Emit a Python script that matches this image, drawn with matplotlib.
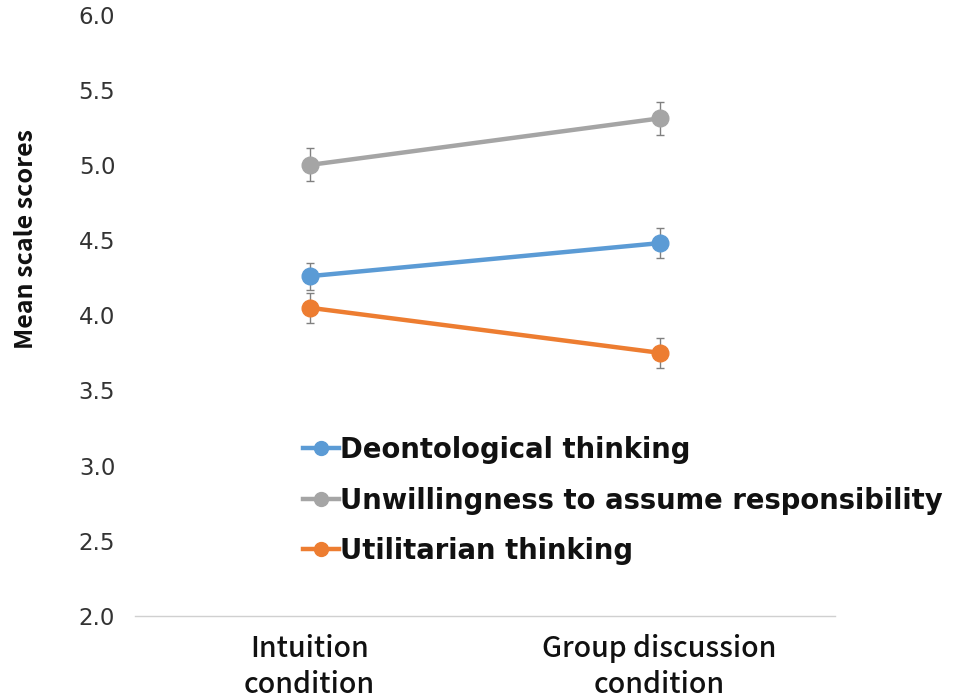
import numpy as np
import matplotlib.pyplot as plt
from matplotlib.lines import Line2D

plt.rcParams['font.family'] = ['Noto Sans CJK JP', 'DejaVu Sans']

# Data
conditions = ["Intuition\ncondition", "Group discussion\ncondition"]
series_names = ["Deontological thinking",
                "Unwillingness to assume responsibility",
                "Utilitarian thinking"]
deontological = [4.26, 4.48]
unwillingness = [5.00, 5.31]
utilitarian = [4.05, 3.75]
deontological_err = [0.09, 0.10]
unwillingness_err = [0.11, 0.11]
utilitarian_err = [0.10, 0.10]

colors = ["#5B9BD5", "#A5A5A5", "#ED7D31"]
values = [deontological, unwillingness, utilitarian]
errors = [deontological_err, unwillingness_err, utilitarian_err]

fig = plt.figure(figsize=(9.55, 6.99), dpi=100)
ax = fig.add_axes([0.141, 0.119, 0.733, 0.860])

x = np.arange(len(conditions))
handles = []
for name, vals, errs, c in zip(series_names, values, errors, colors):
    ax.errorbar(x, vals, yerr=errs, color=c, lw=3.2, marker='o', markersize=12,
                ecolor='#808080', elinewidth=1, capsize=3, capthick=1,
                zorder=3)
    handles.append(Line2D([], [], color=c, lw=3.2, marker='o', markersize=10,
                          label=name))

ax.set_xlim(-0.5, 1.5)
ax.set_ylim(2.0, 6.0)
yt = np.arange(2.0, 6.01, 0.5)
ax.set_yticks(yt)
ax.set_yticklabels([f"{v:.1f}" for v in yt], fontsize=16.5,
                   family='DejaVu Sans', color='#333333')
ax.set_xticks(x)
ax.set_xticklabels(conditions, fontsize=20.5, fontweight='medium',
                   linespacing=1.3, color='#111111')
ax.tick_params(axis='both', length=0)
ax.tick_params(axis='y', pad=14)
ax.tick_params(axis='x', pad=13)

for side in ['top', 'right', 'left']:
    ax.spines[side].set_visible(False)
ax.spines['bottom'].set_color('#d0d0d0')
ax.spines['bottom'].set_linewidth(1)

ax.set_ylabel("Mean scale scores", fontsize=18, fontweight='bold',
              color='#111111')
ax.yaxis.set_label_coords(-0.138, 0.627)

leg = ax.legend(handles=handles, loc='upper left',
                bbox_to_anchor=(303 / 955, 1 - 436 / 699),
                bbox_transform=fig.transFigure, frameon=False,
                prop={'family': 'DejaVu Sans', 'size': 19.8, 'weight': 'bold'},
                handlelength=1.3, handletextpad=0.05,
                labelspacing=0.82, borderpad=0, borderaxespad=0)
for t in leg.get_texts():
    t.set_color('#111111')

fig.savefig("out.png", dpi=100)
